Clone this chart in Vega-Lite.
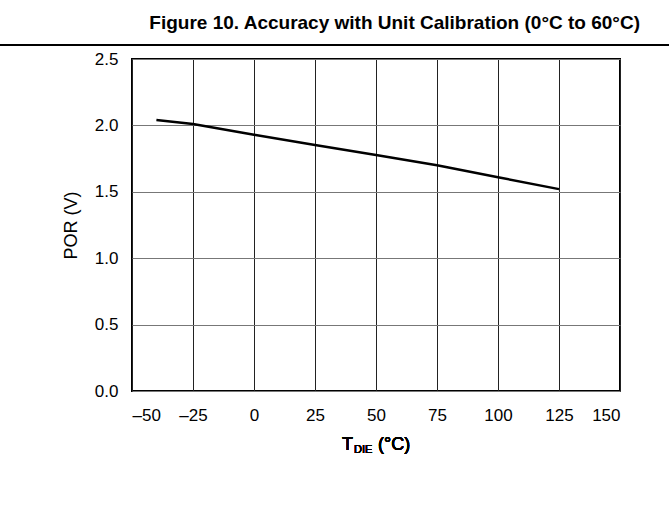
{
  "$schema": "https://vega.github.io/schema/vega-lite/v6.json",
  "width": 488,
  "height": 332,
  "autosize": {"type": "none"},
  "padding": {"left": 132, "top": 59, "right": 49, "bottom": 138},
  "background": "white",
  "config": {
    "font": "Liberation Sans",
    "view": {"stroke": "black", "strokeWidth": 2},
    "axis": {
      "domain": false,
      "ticks": false,
      "labelFont": "Liberation Sans",
      "labelFontSize": 17,
      "labelColor": "black",
      "titleFont": "Liberation Sans",
      "titleFontSize": 18,
      "titleFontWeight": "normal",
      "titleColor": "black",
      "gridOpacity": 1,
      "gridWidth": 1
    }
  },
  "title": {
    "text": "Figure 10. Accuracy with Unit Calibration (0°C to 60°C)",
    "anchor": "end",
    "frame": "group",
    "font": "Liberation Sans",
    "fontSize": 19,
    "fontWeight": "bold",
    "color": "black",
    "dx": 20,
    "offset": -4,
    "baseline": "alphabetic"
  },
  "data": {
    "values": [
      {"t": -40, "por": 2.04},
      {"t": -25, "por": 2.01},
      {"t": 0, "por": 1.93},
      {"t": 25, "por": 1.852},
      {"t": 50, "por": 1.777},
      {"t": 75, "por": 1.70},
      {"t": 100, "por": 1.61},
      {"t": 125, "por": 1.52}
    ]
  },
  "layer": [
    {
      "mark": {"type": "line", "color": "black", "strokeWidth": 2.5},
      "encoding": {
        "x": {
          "field": "t",
          "type": "quantitative",
          "scale": {"domain": [-50, 150], "nice": false, "zero": false},
          "axis": {
            "values": [-50, -25, 0, 25, 50, 75, 100, 125, 150],
            "gridColor": "#222222",
            "labelPadding": 16,
            "labelExpr": "datum.value < 0 ? '–' + abs(datum.value) : datum.label",
            "title": null
          }
        },
        "y": {
          "field": "por",
          "type": "quantitative",
          "scale": {"domain": [0, 2.5], "nice": false},
          "axis": {
            "values": [0, 0.5, 1, 1.5, 2, 2.5],
            "format": ".1f",
            "gridColor": "#777777",
            "labelPadding": 14,
            "title": "POR (V)",
            "titlePadding": 14
          }
        }
      }
    },
    {
      "mark": {"type": "rule", "color": "black", "strokeWidth": 2, "clip": false},
      "encoding": {
        "x": {"datum": -110},
        "x2": {"datum": 180},
        "y": {"datum": 2.605}
      }
    },
    {
      "mark": {"type": "text", "text": "T", "align": "left", "baseline": "alphabetic", "fontSize": 18, "fontWeight": "normal", "dx": -34, "color": "black", "font": "Liberation Sans"},
      "encoding": {"x": {"datum": 50}, "y": {"datum": -0.444}}
    },
    {
      "mark": {"type": "text", "text": "DIE", "align": "left", "baseline": "alphabetic", "fontSize": 11, "fontWeight": "normal", "dx": -22, "dy": 3, "color": "black", "font": "Liberation Sans"},
      "encoding": {"x": {"datum": 50}, "y": {"datum": -0.444}}
    },
    {
      "mark": {"type": "text", "text": "(°C)", "align": "left", "baseline": "alphabetic", "fontSize": 18, "fontWeight": "normal", "dx": 2, "color": "black", "font": "Liberation Sans"},
      "encoding": {"x": {"datum": 50}, "y": {"datum": -0.444}}
    }
  ]
}
